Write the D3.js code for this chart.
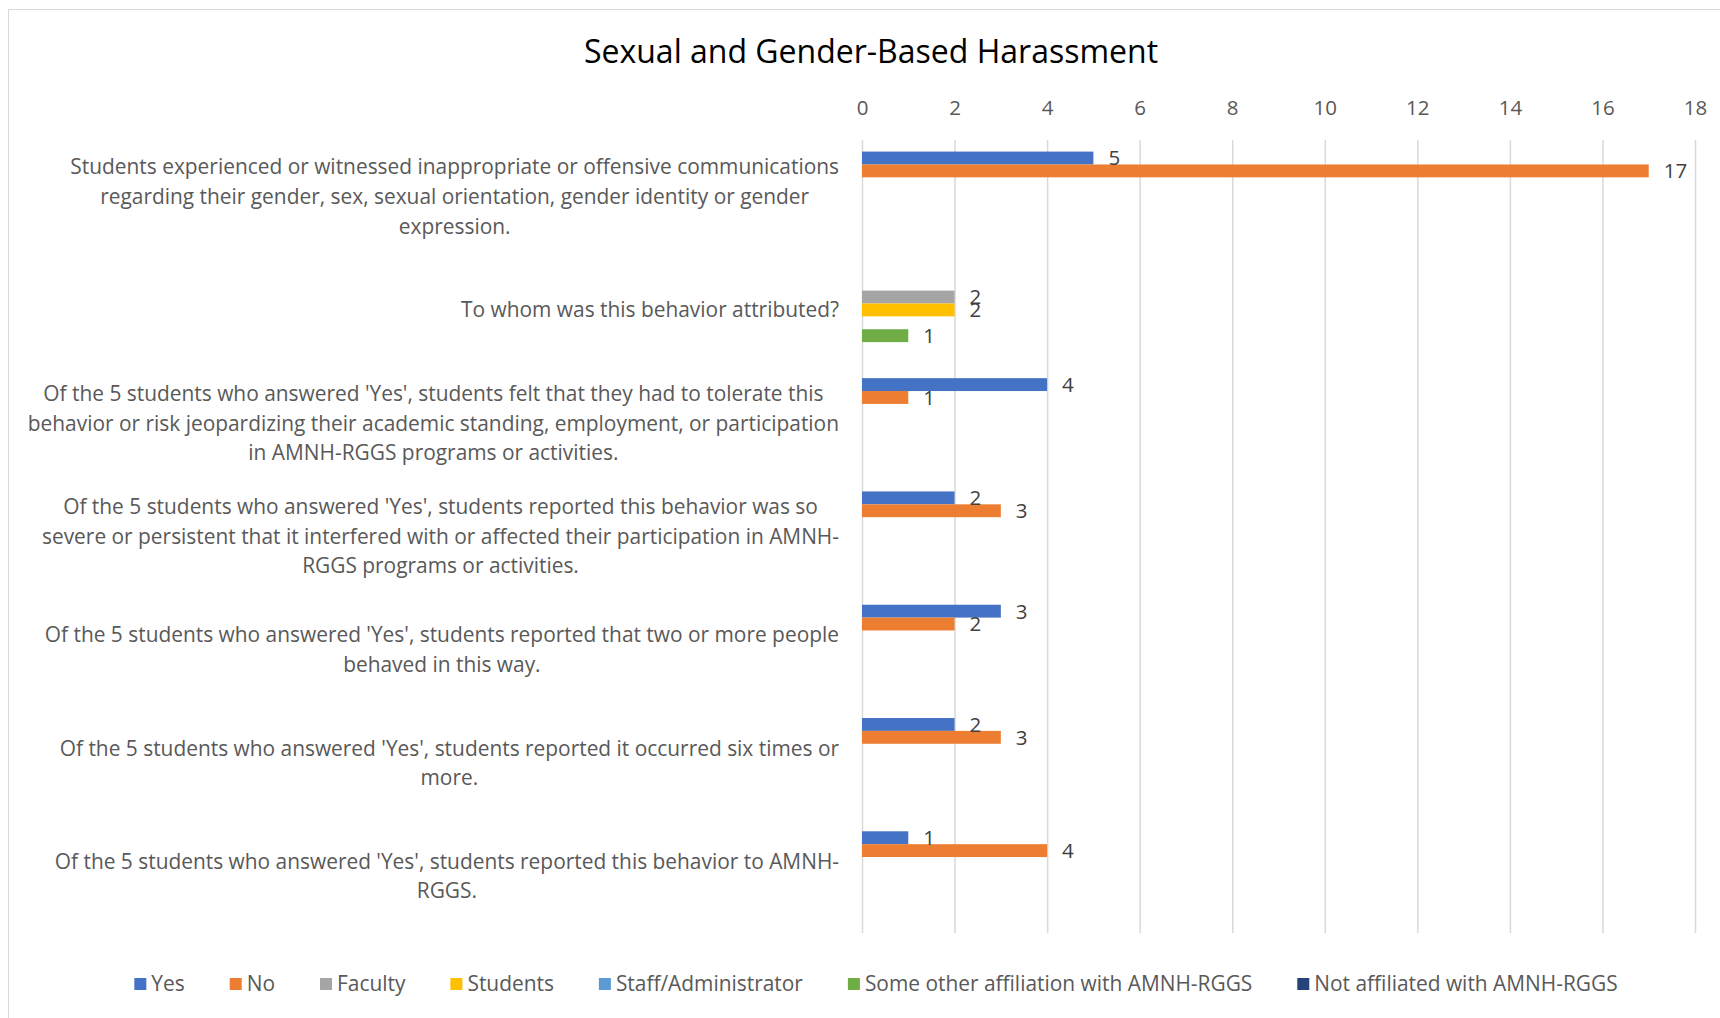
<!DOCTYPE html>
<html><head><meta charset="utf-8">
<script src="https://cdn.jsdelivr.net/npm/d3@7"></script>
<style>
html,body{margin:0;padding:0;background:#fff;}
svg{display:block;font-family:"Open Sans",sans-serif;}
</style></head>
<body><svg id="c" width="1720" height="1018"></svg>
<script>
const categories = [
  "Students experienced or witnessed inappropriate or offensive communications|regarding their gender, sex, sexual orientation, gender identity or gender|expression.",
  "To whom was this behavior attributed?",
  "Of the 5 students who answered 'Yes', students felt that they had to tolerate this|behavior or risk jeopardizing their academic standing, employment, or participation|in AMNH-RGGS programs or activities.",
  "Of the 5 students who answered 'Yes', students reported this behavior was so|severe or persistent that it interfered with or affected their participation in AMNH-|RGGS programs or activities.",
  "Of the 5 students who answered 'Yes', students reported that two or more people|behaved in this way.",
  "Of the 5 students who answered 'Yes', students reported it occurred six times or|more.",
  "Of the 5 students who answered 'Yes', students reported this behavior to AMNH-|RGGS."
];
const seriesNames = ["Yes","No","Faculty","Students","Staff/Administrator","Some other affiliation with AMNH-RGGS","Not affiliated with AMNH-RGGS"];
const seriesColors = ["#4472C4","#ED7D31","#A5A5A5","#FFC000","#5B9BD5","#70AD47","#264478"];
const yesValues      = [5, null, 4, 2, 3, 2, 1];
const noValues       = [17, null, 1, 3, 2, 3, 4];
const facultyValues  = [null, 2, null, null, null, null, null];
const studentValues  = [null, 2, null, null, null, null, null];
const staffValues    = [null, null, null, null, null, null, null];
const otherValues    = [null, 1, null, null, null, null, null];
const notAffValues   = [null, null, null, null, null, null, null];
const xTicks = [0,2,4,6,8,10,12,14,16,18];
const title = "Sexual and Gender-Based Harassment";

const allSeries = [yesValues,noValues,facultyValues,studentValues,staffValues,otherValues,notAffValues];

const svg = d3.select("#c");
svg.append("rect").attr("x",8.5).attr("y",9.5).attr("width",1760).attr("height",1060)
  .attr("fill","#fff").attr("stroke","#D9D9D9").attr("stroke-width",1);

const x = d3.scaleLinear().domain([0,18]).range([862,1695]);
const y = d3.scaleBand().domain(d3.range(categories.length)).range([140,933]).paddingInner(0).paddingOuter(0);
const ys = d3.scaleBand().domain(d3.range(seriesNames.length)).range([0,y.bandwidth()]).paddingInner(0).paddingOuter(0.9);

svg.append("text").attr("x",871).attr("y",63).attr("text-anchor","middle")
  .attr("font-size",32).attr("fill","#000").text(title);

// gridlines
svg.append("g").selectAll("line").data(xTicks).join("line")
  .attr("x1",d=>x(d)+0.5).attr("x2",d=>x(d)+0.5).attr("y1",140).attr("y2",933)
  .attr("stroke","#D9D9D9").attr("stroke-width",1.5);

// top axis
const ax = svg.append("g").attr("transform","translate(0,115)")
  .call(d3.axisTop(x).tickValues(xTicks).tickSize(0).tickPadding(0));
ax.select(".domain").remove();
ax.selectAll("text").attr("font-size",20.5).attr("fill","#595959").attr("font-family","Open Sans");

// bars
const flat = [];
allSeries.forEach((vals,si)=>vals.forEach((v,ci)=>{ if(v!=null && v>0) flat.push({si,ci,v}); }));
const bars = svg.append("g");
bars.selectAll("rect").data(flat).join("rect")
  .attr("x",x(0)).attr("y",d=>y(d.ci)+ys(d.si))
  .attr("width",d=>x(d.v)-x(0)).attr("height",ys.bandwidth())
  .attr("fill",d=>seriesColors[d.si]);
bars.selectAll("text").data(flat).join("text")
  .attr("x",d=>x(d.v)+15).attr("y",d=>y(d.ci)+ys(d.si)+ys.bandwidth()/2)
  .attr("dy","0.36em").attr("font-size",20.5).attr("fill","#404040").text(d=>d.v);

// category labels
const lab = svg.append("g");
categories.forEach((c,i)=>{
  const lines = c.split("|");
  const g = lab.append("g");
  const lh = 29.6;
  const cy = y(i)+y.bandwidth()/2;
  const ts = lines.map((l,k)=>g.append("text").attr("font-size",20.9).attr("fill","#595959")
     .attr("y",cy+(k-(lines.length-1)/2)*lh).attr("dy","0.35em").text(l));
  const widths = ts.map(t=>t.node().getComputedTextLength());
  const maxW = d3.max(widths);
  const right = 839;
  const center = right - maxW/2;
  ts.forEach(t=>t.attr("x",center).attr("text-anchor","middle"));
});

// legend
const leg = svg.append("g");
let cx = 0;
const gap = 45;
seriesNames.forEach((n,i)=>{
  const g = leg.append("g");
  g.append("rect").attr("x",0).attr("y",-6).attr("width",12).attr("height",12).attr("fill",seriesColors[i]);
  const t = g.append("text").attr("x",17).attr("dy","0.35em").attr("font-size",20.9).attr("fill","#595959").text(n);
  const w = 17 + t.node().getComputedTextLength();
  g.attr("transform",`translate(${cx},984)`);
  cx += w + gap;
});
const total = cx - gap;
leg.attr("transform",`translate(${876-total/2},0)`);
</script></body></html>
